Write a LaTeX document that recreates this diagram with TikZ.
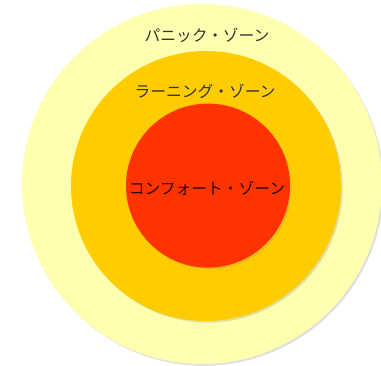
\documentclass[tikz,border=0pt]{standalone}
\usepackage{fontspec}
\newfontfamily\jpfont{Noto Sans CJK JP}
\usepackage{tikz}
\usetikzlibrary{shadows}
\definecolor{panicyellow}{RGB}{255, 255, 176}
\definecolor{learnorange}{RGB}{255, 204, 0}
\definecolor{comfortred}{RGB}{255, 51, 0}

\begin{document}
\begin{tikzpicture}[
  zone/.style={
    circle, draw=none, inner sep=0pt,
    drop shadow={opacity=0.25, shadow xshift=1.2pt, shadow yshift=-1.2pt}
  },
  zonelabel/.style={
    font=\jpfont\fontsize{11.2pt}{13pt}\selectfont, text=black!80,
    inner sep=0pt
  }
]
\useasboundingbox[fill=white] (0, 0) rectangle (9.525, -9.15);

\node[zone, fill=panicyellow, minimum size=9.0cm] (panic) at (5.05, -4.6) {};
\node[zone, fill=learnorange, minimum size=6.75cm] (learning) at (5.15, -4.65) {};
\node[zone, fill=comfortred, minimum size=4.1cm] (comfort) at (5.2, -4.64) {};

\node[zonelabel] (panictext) at (5.175, -0.875) {パニック・ゾーン};
\node[zonelabel] (learningtext) at (5.125, -2.275) {ラーニング・ゾーン};
\node[zonelabel, text=black!85!comfortred] (comforttext) at (5.175, -4.7) {コンフォート・ゾーン};
\end{tikzpicture}
\end{document}
